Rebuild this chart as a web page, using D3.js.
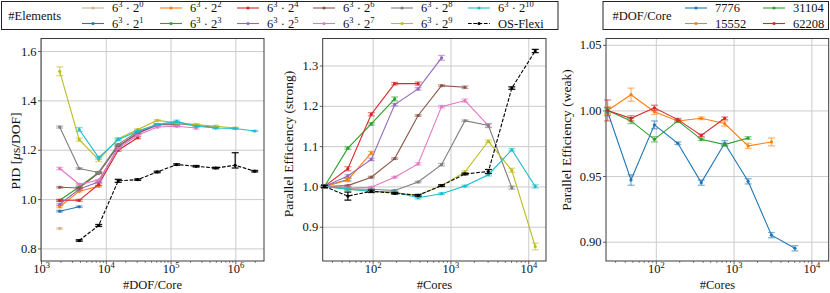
<!DOCTYPE html>
<html>
<head>
<meta charset="utf-8">
<script src="https://cdn.jsdelivr.net/npm/d3@7"></script>
<style>
body { margin: 0; background: #fff; }
text { fill: #111; }
</style>
</head>
<body>
<svg id="chart" width="830" height="293"></svg>
<script>
// element counts are 6^3 * 2^k
const elemExponents = [0, 1, 2, 3, 4, 5, 6, 7, 8, 9, 10];
const elemColors = ["#d2b48c", "#1f77b4", "#ff7f0e", "#2ca02c", "#d62728", "#9467bd",
    "#8c564b", "#e377c2", "#7f7f7f", "#bcbd22", "#17becf"];

// left panel: PID over DOF per core
const dofPerCore = [1944, 3888, 7776, 15552, 31104, 62208, 124416, 248832, 497664, 995328, 1990656];
const pidValues = [
    [0.881],
    [0.951, 0.969],
    [0.969, 1.032, 1.052],
    [0.995, 1.049, 1.108, 1.218],
    [0.995, 0.995, 1.060, 1.198, 1.249],
    [0.979, 1.040, 1.070, 1.211, 1.266, 1.299],
    [1.048, 1.045, 1.105, 1.215, 1.268, 1.302, 1.302],
    [1.124, 1.060, 1.077, 1.205, 1.259, 1.292, 1.295, 1.288],
    [1.292, 1.124, 1.108, 1.222, 1.274, 1.302, 1.306, 1.299, 1.291],
    [1.518, 1.241, 1.160, 1.245, 1.282, 1.319, 1.309, 1.302, 1.295, 1.288],
    [null, 1.282, 1.168, 1.241, 1.276, 1.302, 1.315, 1.295, 1.288, 1.286, 1.276]
];
const pidErrors = [
    [0.003],
    [0.003, 0.003],
    [0.004, 0.003, 0.004],
    [0.003, 0.003, 0.003, 0.003],
    [0.004, 0.004, 0.005, 0.004, 0.004],
    [0.004, 0.003, 0.003, 0.003, 0.003, 0.003],
    [0.003, 0.003, 0.003, 0.003, 0.003, 0.003, 0.003],
    [0.005, 0.003, 0.003, 0.003, 0.003, 0.003, 0.003, 0.004],
    [0.004, 0.003, 0.003, 0.003, 0.003, 0.003, 0.003, 0.003, 0.003],
    [0.018, 0.006, 0.008, 0.004, 0.003, 0.003, 0.004, 0.004, 0.004, 0.003],
    [null, 0.008, 0.006, 0.004, 0.003, 0.003, 0.005, 0.003, 0.003, 0.003, 0.002]
];
const osFlexiPid = [null, 0.832, 0.893, 1.074, 1.079, 1.110, 1.140, 1.133, 1.126, 1.137, 1.113];
const osFlexiPidErr = [null, 0.003, 0.004, 0.006, 0.003, 0.003, 0.003, 0.003, 0.003, [0.011, 0.051], 0.003];

// middle and right panels: core counts
const cores = [24, 48, 96, 192, 384, 768, 1536, 3072, 6144, 12288];
const strongValues = [
    [1.0],
    [1.0, 1.017],
    [1.0, 1.016, 1.083],
    [1.0, 1.095, 1.155, 1.217],
    [1.0, 1.044, 1.179, 1.255, 1.255],
    [1.0, 1.026, 1.067, 1.203, 1.242, 1.319],
    [1.0, 1.002, 1.023, 1.069, 1.176, 1.250, 1.246],
    [1.0, 0.996, 0.998, 1.023, 1.056, 1.198, 1.213, 1.151],
    [1.0, 0.994, 0.993, 0.990, 1.011, 1.054, 1.163, 1.151, 0.997],
    [1.0, 0.993, 0.988, 0.984, 0.978, 1.002, 1.036, 1.112, 1.040, 0.851],
    [1.0, 0.993, 0.988, 0.986, 0.972, 0.982, 1.001, 1.029, 1.091, 1.000]
];
const strongErrors = [
    [0.003],
    [0.003, 0.003],
    [0.003, 0.004, 0.004],
    [0.003, 0.003, 0.003, 0.005],
    [0.003, 0.005, 0.004, 0.003, 0.004],
    [0.003, 0.003, 0.003, 0.003, 0.003, 0.006],
    [0.003, 0.002, 0.002, 0.002, 0.002, 0.002, 0.003],
    [0.003, 0.002, 0.002, 0.002, 0.003, 0.003, 0.004, 0.005],
    [0.003, 0.002, 0.002, 0.002, 0.002, 0.003, 0.002, 0.004, 0.004],
    [0.003, 0.002, 0.002, 0.002, 0.002, 0.002, 0.003, 0.003, 0.005, 0.008],
    [0.003, 0.002, 0.002, 0.002, 0.003, 0.002, 0.002, 0.003, 0.003, 0.004]
];
const osFlexiStrong = [1.0, 0.976, 0.988, 0.983, 0.978, 1.002, 1.031, 1.037, 1.244, 1.336];
const osFlexiStrongErr = [0.003, 0.010, 0.003, 0.002, 0.002, 0.002, 0.002, 0.005, 0.003, 0.004];

const weakDof = [7776, 15552, 31104, 62208];
const weakColors = ["#1f77b4", "#ff7f0e", "#2ca02c", "#d62728"];
const weakValues = [
    [0.999, 0.947, 0.989, 0.975, 0.945, 0.975, 0.946, 0.905, 0.895],
    [1.000, 1.012, 0.999, 0.992, 0.994, 0.990, 0.973, 0.976],
    [1.000, 0.992, 0.978, 0.992, 0.978, 0.974, 0.979],
    [1.000, 0.994, 1.002, 0.993, 0.981, 0.994]
];
const weakErrors = [
    [0.003, 0.004, 0.003, 0.001, 0.002, 0.002, 0.002, 0.002, 0.002],
    [0.003, 0.005, 0.002, 0.001, 0.001, 0.002, 0.002, 0.003],
    [0.002, 0.002, 0.002, 0.001, 0.001, 0.001, 0.001],
    [0.008, 0.002, 0.002, 0.001, 0.001, 0.001]
];

const pidTicks = [0.8, 1.0, 1.2, 1.4, 1.6];
const strongTicks = [0.9, 1.0, 1.1, 1.2, 1.3];
const weakTicks = [0.90, 0.95, 1.00, 1.05];

const serif = "Liberation Serif";
const svg = d3.select("#chart");
const gridColor = "#cbcbcb";
const frameColor = "#3a3a3a";

function supLabel(text, base, sup) {
    text.append("tspan").text(base);
    text.append("tspan").attr("dy", -4.6).attr("font-size", 8.5).text(sup);
}

function makePanel(cfg) {
    const g = svg.append("g");
    const x = d3.scaleLog().domain(cfg.xDomain).range([cfg.left, cfg.right]);
    const y = d3.scaleLinear().domain(cfg.yDomain).range([cfg.bottom, cfg.top]);
    const h = cfg.bottom - cfg.top;
    const w = cfg.right - cfg.left;

    // grid
    g.append("g")
        .attr("transform", `translate(0,${cfg.bottom})`)
        .call(d3.axisBottom(x).tickValues(cfg.xMajors).tickSize(-h).tickFormat(""))
        .call(a => a.select(".domain").remove())
        .call(a => a.selectAll("line").attr("stroke", gridColor).attr("stroke-width", 1));
    g.append("g")
        .attr("transform", `translate(${cfg.left},0)`)
        .call(d3.axisLeft(y).tickValues(cfg.yTicks).tickSize(-w).tickFormat(""))
        .call(a => a.select(".domain").remove())
        .call(a => a.selectAll("line").attr("stroke", gridColor).attr("stroke-width", 1));

    // minor x ticks
    const minors = [];
    for (let e = -1; e < 8; e++) {
        for (let m = 2; m < 10; m++) {
            const v = m * Math.pow(10, e);
            if (v > cfg.xDomain[0] && v < cfg.xDomain[1]) minors.push(v);
        }
    }
    g.append("g")
        .attr("transform", `translate(0,${cfg.bottom})`)
        .call(d3.axisBottom(x).tickValues(minors).tickSize(2).tickFormat(""))
        .call(a => a.select(".domain").remove())
        .call(a => a.selectAll("line").attr("stroke", frameColor).attr("stroke-width", 0.6));

    // major x ticks with 10^n labels
    const xAxis = g.append("g")
        .attr("transform", `translate(0,${cfg.bottom})`)
        .call(d3.axisBottom(x).tickValues(cfg.xMajors).tickSize(3.5).tickFormat(""))
        .attr("font-family", serif)
        .call(a => a.select(".domain").remove());
    xAxis.selectAll("line").attr("stroke", frameColor).attr("stroke-width", 0.8);
    xAxis.selectAll(".tick text")
        .attr("y", 12).attr("dy", null)
        .attr("font-size", 12.5)
        .attr("text-anchor", "middle")
        .each(function (d) {
            supLabel(d3.select(this), "10", Math.round(Math.log10(d)));
        });

    // y ticks
    const yAxis = g.append("g")
        .attr("transform", `translate(${cfg.left},0)`)
        .call(d3.axisLeft(y).tickValues(cfg.yTicks).tickSize(3).tickPadding(1.5).tickFormat(d3.format(cfg.yFormat)))
        .attr("font-family", serif)
        .call(a => a.select(".domain").remove());
    yAxis.selectAll("line").attr("stroke", frameColor).attr("stroke-width", 0.8);
    yAxis.selectAll("text").attr("font-size", 12.5).attr("fill", "#111");

    // frame
    g.append("rect")
        .attr("x", cfg.left).attr("y", cfg.top)
        .attr("width", w).attr("height", h)
        .attr("fill", "none").attr("stroke", frameColor).attr("stroke-width", 1);

    // axis labels
    g.append("text")
        .attr("x", (cfg.left + cfg.right) / 2).attr("y", 288.5)
        .attr("text-anchor", "middle").attr("font-size", 12.5)
        .attr("font-family", serif)
        .text(cfg.xLabel);
    const yl = g.append("text")
        .attr("transform", `translate(${cfg.yLabelX},${cfg.yLabelY}) rotate(-90)`)
        .attr("font-family", serif)
        .attr("text-anchor", "middle").attr("font-size", 13.5);
    if (cfg.yLabelParts) {
        cfg.yLabelParts.forEach(p => yl.append("tspan").attr("font-style", p[1] ? "italic" : null).text(p[0]));
    } else {
        yl.text(cfg.yLabel);
    }

    const plot = g.append("g");
    return { x, y, plot };
}

function drawSeries(p, xs, ys, errs, color, dashed) {
    const pts = [];
    ys.forEach((v, i) => {
        if (v !== null && v !== undefined) pts.push({ x: xs[i], y: v, e: errs[i] });
    });
    const s = p.plot.append("g");
    const line = d3.line().x(d => p.x(d.x)).y(d => p.y(d.y));

    // error bars
    const eb = s.append("g")
        .attr("stroke", color)
        .attr("stroke-opacity", dashed ? 0.9 : 0.55)
        .attr("stroke-width", 1.3);
    pts.forEach(d => {
        const lo = Array.isArray(d.e) ? d.e[0] : d.e;
        const hi = Array.isArray(d.e) ? d.e[1] : d.e;
        const cx = p.x(d.x);
        const y0 = p.y(d.y - lo), y1 = p.y(d.y + hi);
        eb.append("line").attr("x1", cx).attr("x2", cx).attr("y1", y0).attr("y2", y1);
        eb.append("line").attr("x1", cx - 3.5).attr("x2", cx + 3.5).attr("y1", y0).attr("y2", y0);
        eb.append("line").attr("x1", cx - 3.5).attr("x2", cx + 3.5).attr("y1", y1).attr("y2", y1);
    });

    s.append("path")
        .datum(pts)
        .attr("d", line)
        .attr("fill", "none")
        .attr("stroke", color)
        .attr("stroke-width", 1.1)
        .attr("stroke-dasharray", dashed ? "3.7,1.6" : null);

    s.selectAll("circle")
        .data(pts)
        .join("circle")
        .attr("cx", d => p.x(d.x))
        .attr("cy", d => p.y(d.y))
        .attr("r", 1.6)
        .attr("fill", color);
}

function legendEntry(g, x, y, color, dashed, build) {
    g.append("line")
        .attr("x1", x).attr("x2", x + 22).attr("y1", y).attr("y2", y)
        .attr("stroke", color).attr("stroke-width", 1.1)
        .attr("stroke-dasharray", dashed ? "3.7,1.6" : null);
    g.append("circle").attr("cx", x + 11).attr("cy", y).attr("r", 1.6).attr("fill", color);
    const t = g.append("text")
        .attr("x", x + 30).attr("y", y + 4).attr("font-size", 12.5)
        .attr("font-family", serif);
    build(t);
}

// panels
const p1 = makePanel({
    left: 41, right: 264, top: 38.5, bottom: 261,
    xDomain: [1000, 2.77e6], yDomain: [0.749, 1.651],
    xMajors: [1e3, 1e4, 1e5, 1e6], yTicks: pidTicks, yFormat: ".1f",
    xLabel: "#DOF/Core", yLabelX: 19.5, yLabelY: 151,
    yLabelParts: [["PID ["], ["\u03bc", true], ["s/DOF]"]]
});
const p2 = makePanel({
    left: 322.7, right: 546, top: 38.5, bottom: 261,
    xDomain: [22.8, 16900], yDomain: [0.815, 1.367],
    xMajors: [1e2, 1e3, 1e4], yTicks: strongTicks, yFormat: ".1f",
    xLabel: "#Cores", yLabelX: 293, yLabelY: 144, yLabel: "Parallel Efficiency (strong)"
});
const p3 = makePanel({
    left: 606, right: 828.7, top: 38.5, bottom: 261,
    xDomain: [22.9, 16700], yDomain: [0.8853, 1.0548],
    xMajors: [1e2, 1e3, 1e4], yTicks: weakTicks, yFormat: ".2f",
    xLabel: "#Cores", yLabelX: 571, yLabelY: 140, yLabel: "Parallel Efficiency (weak)"
});

elemExponents.forEach((k, i) => {
    drawSeries(p1, dofPerCore, pidValues[i], pidErrors[i], elemColors[i], false);
    drawSeries(p2, cores, strongValues[i], strongErrors[i], elemColors[i], false);
});
drawSeries(p1, dofPerCore, osFlexiPid, osFlexiPidErr, "#000", true);
drawSeries(p2, cores, osFlexiStrong, osFlexiStrongErr, "#000", true);

weakDof.forEach((d, i) => {
    drawSeries(p3, cores, weakValues[i], weakErrors[i], weakColors[i], false);
});

// legend for elements
const lg1 = svg.append("g");
lg1.append("rect")
    .attr("x", 1.5).attr("y", 1.5).attr("width", 556.5).attr("height", 28)
    .attr("fill", "#fff").attr("stroke", "#222").attr("stroke-width", 1);
lg1.append("text").attr("x", 8.3).attr("y", 20).attr("font-size", 12.5)
    .attr("font-family", serif).text("#Elements");
const colX = [82, 160, 237, 313, 391, 468];
const rowY = [8, 23.5];
elemExponents.forEach((k, i) => {
    const cx = colX[Math.floor(i / 2)], cy = rowY[i % 2];
    legendEntry(lg1, cx, cy, elemColors[i], false, t => {
        t.append("tspan").text("6");
        t.append("tspan").attr("dy", -4.6).attr("font-size", 8.5).text("3");
        t.append("tspan").attr("dy", 4.6).text(" \u00b7 2");
        t.append("tspan").attr("dy", -4.6).attr("font-size", 8.5).text(k);
    });
});
legendEntry(lg1, colX[5], rowY[1], "#000", true, t => t.text("OS-Flexi"));

// legend for weak scaling
const lg2 = svg.append("g");
lg2.append("rect")
    .attr("x", 603).attr("y", 1.5).attr("width", 225.5).attr("height", 28)
    .attr("fill", "#fff").attr("stroke", "#222").attr("stroke-width", 1);
lg2.append("text").attr("x", 612.5).attr("y", 20).attr("font-size", 12.5)
    .attr("font-family", serif).text("#DOF/Core");
const colX2 = [685, 763];
weakDof.forEach((d, i) => {
    legendEntry(lg2, colX2[Math.floor(i / 2)], rowY[i % 2], weakColors[i], false, t => t.text(d));
});
</script>
</body>
</html>
